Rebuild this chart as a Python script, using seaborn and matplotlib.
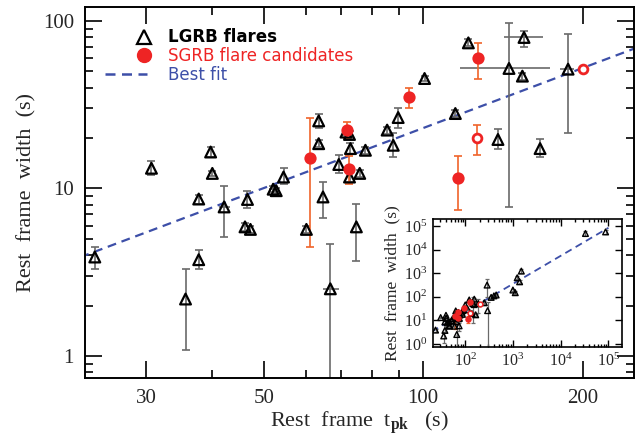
import numpy as np
import pandas as pd
import matplotlib
matplotlib.use('Agg')
import matplotlib.pyplot as plt
from matplotlib import ticker
from matplotlib.lines import Line2D
from matplotlib.legend_handler import HandlerLine2D
import seaborn as sns


# LGRB flares in the main panel: t_pk, width, width bounds (s)
lgrb_t = [24.0, 30.7, 35.6, 37.7, 37.7, 39.7, 40.0, 42.1, 46.6, 46.1, 47.2, 52.1, 52.8,
          54.5, 60.2, 63.5, 63.5, 64.7, 66.8, 71.5, 72.6, 72.9, 77.8, 69.3, 72.6, 75.9,
          74.8, 85.5, 89.7, 87.8, 100.6, 115.0, 121.7, 138.4, 145.2, 155.0, 153.9, 166.2, 187.7]
lgrb_w = [3.9, 13.2, 2.19, 8.65, 3.76, 16.5, 12.3, 7.76, 8.6, 5.9, 5.7, 9.9, 9.7,
          11.7, 5.7, 18.5, 25.3, 8.9, 2.52, 21.7, 21.0, 17.3, 16.9, 13.9, 11.7, 12.3,
          5.9, 22.3, 26.5, 18.1, 45.3, 28.0, 73.9, 19.6, 52.0, 79.6, 46.8, 17.3, 51.5]
lgrb_wlo = [3.3, 12.1, 1.09, 8.1, 3.3, 15.4, 11.8, 5.1, 7.6, 5.6, 5.45, 9.5, 9.3,
            10.7, 5.4, 17.6, 22.9, 6.7, 0.5, 20.8, 20.1, 16.0, 16.1, 12.3, 10.9, 11.7,
            3.7, 21.2, 23.1, 15.4, 43.5, 26.8, 70.5, 17.1, 7.7, 69.4, 44.5, 15.4, 21.3]
lgrb_whi = [4.5, 14.6, 3.3, 9.2, 4.3, 17.7, 12.8, 10.4, 9.7, 6.2, 5.95, 10.3, 10.1,
            13.2, 6.0, 19.4, 27.7, 11.0, 4.69, 22.6, 21.9, 18.6, 17.7, 15.8, 12.5, 12.9,
            8.1, 23.4, 30.1, 21.4, 47.2, 29.3, 77.5, 22.5, 96.5, 87.0, 49.0, 19.6, 83.0]

# LGRB flares with visible horizontal error bars
lgrb_xe_t = [42.1, 52.1, 66.8, 145.2, 155.0, 187.7]
lgrb_xe_w = [7.76, 9.9, 2.52, 52.0, 79.6, 51.5]
lgrb_xe_lo = [41.2, 51.2, 64.7, 117.3, 142.0, 181.0]
lgrb_xe_hi = [43.1, 53.0, 69.3, 173.6, 168.0, 193.0]

# extra LGRB flares outside the main panel range (inset only)
extra_t = [252, 288, 295, 350, 400, 446, 1000, 1120, 1230, 1380, 1500, 3.3e4, 8.7e4]
extra_w = [56, 316, 26, 95, 110, 120, 195, 150, 645, 435, 1240, 4.9e4, 5.7e4]
extra_wlo = [48, 100, 0.5, 85, 100, 108, 170, 130, 560, 380, 1050, 3.9e4, 4.6e4]
extra_whi = [65, 600, 60, 105, 121, 133, 225, 175, 740, 500, 1450, 6.0e4, 7.0e4]

# SGRB flare candidates (filled)
sgrb_t = [61.1, 71.9, 72.4, 94.1, 116.3, 126.9]
sgrb_w = [15.3, 22.3, 13.0, 35.2, 11.5, 59.7]
sgrb_wlo = [4.5, 19.9, 10.6, 30.4, 7.4, 44.8]
sgrb_whi = [26.2, 25.0, 15.7, 39.8, 15.6, 73.9]

# SGRB flare candidates (open)
sgrb_open_t = [126.5, 200.4]
sgrb_open_w = [19.9, 51.3]
sgrb_open_wlo = [15.8, 51.3]
sgrb_open_whi = [23.8, 51.3]

# best fit: width = norm * t_pk ** slope
fit_norm = 0.0956
fit_slope = 1.19

BLUE = '#3d4fa8'
RED = '#ee2424'
RED_ERR = '#f0642a'
GRAY = '#6a6a6a'


class RightMarkerHandler(HandlerLine2D):
	# single legend marker at the right end of the handle, as in the original figure
	def get_numpoints(self, legend):
		return 2

	def get_xdata(self, legend, xdescent, ydescent, width, height, fontsize):
		x = np.array([-xdescent + 0.93*width])
		return x, x


def yerr_of(w, lo, hi):
	w, lo, hi = np.array(w), np.array(lo), np.array(hi)
	return [w - lo, hi - w]


def draw_points(ax, t, w, wlo, whi, small = False):
	'''
	draws errorbars and markers of all samples on ax
	'''
	cap = 1.5 if small else 2.8
	elw = 0.9 if small else 1.2

	ax.errorbar(t, w, yerr = yerr_of(w, wlo, whi), fmt = 'none', ecolor = GRAY,
				elinewidth = elw, capsize = cap, capthick = elw, zorder = 2)
	ax.errorbar(lgrb_xe_t, lgrb_xe_w,
				xerr = [np.array(lgrb_xe_t) - np.array(lgrb_xe_lo), np.array(lgrb_xe_hi) - np.array(lgrb_xe_t)],
				fmt = 'none', ecolor = GRAY, elinewidth = elw, capsize = 0, zorder = 2)
	ax.errorbar(sgrb_t, sgrb_w, yerr = yerr_of(sgrb_w, sgrb_wlo, sgrb_whi), fmt = 'none',
				ecolor = RED_ERR, elinewidth = elw, capsize = cap, capthick = elw, zorder = 2)
	ax.errorbar(sgrb_open_t, sgrb_open_w, yerr = yerr_of(sgrb_open_w, sgrb_open_wlo, sgrb_open_whi),
				fmt = 'none', ecolor = RED_ERR, elinewidth = elw, capsize = cap, capthick = elw, zorder = 2)

	sns.scatterplot(x = t, y = w, marker = '^', s = 17 if small else 60,
					facecolor = 'none', edgecolor = 'black', linewidth = 1.0 if small else 1.6, ax = ax, zorder = 3)
	sns.scatterplot(x = sgrb_t, y = sgrb_w, marker = 'o', s = 22 if small else 78,
					color = RED, edgecolor = RED, linewidth = 0, ax = ax, zorder = 4)
	sns.scatterplot(x = sgrb_open_t, y = sgrb_open_w, marker = 'o', s = 12 if small else 40,
					facecolor = 'white', edgecolor = RED, linewidth = 1.1 if small else 2.0, ax = ax, zorder = 4)


sns.set_theme(style = 'ticks')
plt.rcParams['font.family'] = ['Liberation Serif', 'DejaVu Serif']
plt.rcParams['mathtext.fontset'] = 'custom'
plt.rcParams['mathtext.rm'] = 'Liberation Serif'
plt.rcParams['mathtext.it'] = 'Liberation Serif'
plt.rcParams['mathtext.bf'] = 'Liberation Serif:bold'

fig = plt.figure(figsize = (6.44, 4.36), dpi = 100)
fig.patch.set_facecolor('white')
ax = fig.add_axes([0.132, 0.133, 0.8525, 0.851])
ax.set_xscale('log')
ax.set_yscale('log')

# main panel
draw_points(ax, lgrb_t, lgrb_w, lgrb_wlo, lgrb_whi)

fit_t = np.array([20.0, 300.0])
sns.lineplot(x = fit_t, y = fit_norm*fit_t**fit_slope, color = BLUE, linewidth = 1.6,
			 linestyle = (0, (4, 2.6)), ax = ax, zorder = 1)

ax.set_xlim(23.0, 250.0)
ax.set_ylim(0.74, 121)

ax.xaxis.set_major_locator(ticker.FixedLocator([30, 50, 100, 200]))
ax.xaxis.set_minor_locator(ticker.FixedLocator([40, 60, 70, 80, 90]))
ax.xaxis.set_major_formatter(ticker.FuncFormatter(lambda v, p: '%g' % v))
ax.xaxis.set_minor_formatter(ticker.NullFormatter())
ax.yaxis.set_major_formatter(ticker.FuncFormatter(lambda v, p: '%g' % v))
ax.yaxis.set_minor_formatter(ticker.NullFormatter())

ax.tick_params(which = 'both', direction = 'in', top = True, right = True, color = 'black', width = 1.2)
ax.tick_params(which = 'major', length = 12, labelsize = 15, pad = 8)
ax.tick_params(which = 'minor', length = 6)
for sp in ax.spines.values():
	sp.set_color('black')
	sp.set_linewidth(1.4)

ax.set_xlabel('Rest  frame  t$_{\\mathbf{pk}}$   (s)', fontsize = 16, labelpad = 1)
ax.set_ylabel('Rest  frame  width  (s)', fontsize = 16, labelpad = 4.5)

handles = [
	Line2D([], [], marker = '^', ls = 'none', mfc = 'none', mec = 'black', ms = 9.5, mew = 1.6),
	Line2D([], [], marker = 'o', ls = 'none', mfc = RED, mec = RED, ms = 10),
	Line2D([], [], color = BLUE, lw = 1.8, ls = (0, (4, 2.6))),
]
leg = ax.legend(handles, ['LGRB flares', 'SGRB flare candidates', 'Best fit'], loc = 'upper left',
				bbox_to_anchor = (0.025, 0.96), frameon = False, handlelength = 2.5, handletextpad = 1.25,
				labelspacing = 0.05, borderaxespad = 0, labelcolor = ['black', RED, BLUE],
				prop = {'family': 'DejaVu Sans', 'size': 12},
				handler_map = {handles[0]: RightMarkerHandler(), handles[1]: RightMarkerHandler()})
leg.get_texts()[0].set_fontweight('bold')

# inset with full t_pk range
axin = fig.add_axes([0.672, 0.204, 0.2935, 0.2936])
axin.set_xscale('log')
axin.set_yscale('log')
draw_points(axin, lgrb_t + extra_t, lgrb_w + extra_w, lgrb_wlo + extra_wlo, lgrb_whi + extra_whi, small = True)
fit_t2 = np.array([20.0, 1.0e5])
sns.lineplot(x = fit_t2, y = fit_norm*fit_t2**fit_slope, color = BLUE, linewidth = 1.3,
			 linestyle = (0, (4, 2.6)), ax = axin, zorder = 1)
axin.set_xlim(21, 1.9e5)
axin.set_ylim(0.74, 2.0e5)
axin.xaxis.set_major_locator(ticker.LogLocator(base = 10, numticks = 10))
axin.yaxis.set_major_locator(ticker.LogLocator(base = 10, numticks = 10))
axin.xaxis.set_minor_locator(ticker.LogLocator(base = 10, subs = np.arange(2, 10), numticks = 20))
axin.yaxis.set_minor_locator(ticker.NullLocator())
axin.xaxis.set_major_formatter(ticker.LogFormatterMathtext())
axin.yaxis.set_major_formatter(ticker.LogFormatterMathtext())
axin.xaxis.set_minor_formatter(ticker.NullFormatter())
axin.tick_params(which = 'both', direction = 'in', top = True, right = True, color = 'black', width = 1.0)
axin.tick_params(which = 'major', length = 5, labelsize = 11.5, pad = 4)
axin.tick_params(which = 'minor', length = 2.5)
for sp in axin.spines.values():
	sp.set_color('black')
	sp.set_linewidth(1.2)
axin.set_ylabel('Rest  frame  width  (s)', fontsize = 12.5, labelpad = 2)
axin.set_xlabel('')
axin.patch.set_facecolor('white')

fig.savefig('out.png', dpi = 100, facecolor = 'white')
